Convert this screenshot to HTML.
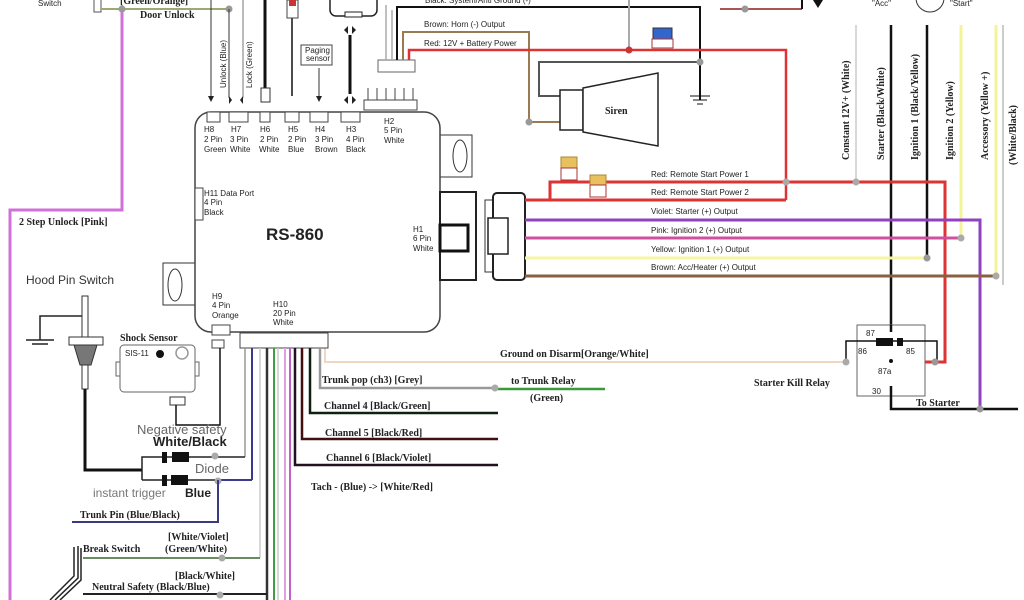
<!DOCTYPE html>
<html><head><meta charset="utf-8"><style>
html,body{margin:0;padding:0;background:#fff;}
svg{display:block;font-family:"Liberation Sans",sans-serif;}
.s{font-size:8px;fill:#222}
.b{font-size:10px;font-weight:bold;fill:#222;font-family:"Liberation Serif",serif}
</style></head><body>
<svg width="1024" height="600" viewBox="0 0 1024 600" xmlns="http://www.w3.org/2000/svg">
<!-- pink 2-step -->
<polyline points="122,9 122,210 10,210 10,600" fill="none" stroke="#d070d8" stroke-width="3"/>
<text x="38" y="6" class="s" font-size="9">Switch</text>
<rect x="94" y="-2" width="7" height="14" fill="#fff" stroke="#555"/>
<line x1="101" y1="9" x2="229" y2="9" stroke="#9aaa70" stroke-width="2"/>
<text x="120" y="4" class="b">[Green/Orange]</text>
<text x="140" y="18" class="b">Door Unlock</text>
<circle cx="122" cy="9" r="3.5" fill="#999"/><circle cx="229" cy="9" r="3.5" fill="#999"/>
<line x1="211" y1="0" x2="211" y2="98" stroke="#333"/>
<line x1="229" y1="9" x2="229" y2="98" stroke="#333"/>
<line x1="243" y1="0" x2="243" y2="98" stroke="#777"/>
<path d="M208,96 L211,102 L214,96Z M229,96 L232,100 L229,104Z M243,96 L240,100 L243,104Z" fill="#222"/>
<text transform="translate(226,88) rotate(-90)" class="s" font-size="9">Unlock (Blue)</text>
<text transform="translate(252,88) rotate(-90)" class="s" font-size="9">Lock (Green)</text>
<line x1="265" y1="0" x2="265" y2="88" stroke="#111" stroke-width="3"/>
<rect x="261" y="88" width="9" height="14" fill="#fff" stroke="#333"/>
<line x1="292" y1="18" x2="292" y2="96" stroke="#111" stroke-width="1.5"/>
<rect x="287" y="0" width="11" height="18" fill="#fff" stroke="#444"/>
<rect x="289" y="0" width="7" height="6" fill="#c33"/>
<rect x="301" y="45" width="31" height="20" fill="#fff" stroke="#444"/>
<text x="305" y="53" class="s" font-size="6">Paging</text><text x="306" y="61" class="s" font-size="6">sensor</text>
<line x1="319" y1="68" x2="319" y2="98" stroke="#333"/><path d="M316,96 L319,102 L322,96Z" fill="#222"/>
<line x1="350" y1="35" x2="350" y2="94" stroke="#111" stroke-width="3"/>
<path d="M344,30 L348,26 L348,34Z M356,30 L352,26 L352,34Z M344,100 L348,96 L348,104Z M356,100 L352,96 L352,104Z" fill="#222"/>
<rect x="330" y="-6" width="47" height="22" rx="6" fill="#fff" stroke="#222" stroke-width="1.5"/>
<rect x="345" y="12" width="17" height="5" fill="#fff" stroke="#222"/>
<!-- H2 connector -->
<rect x="364" y="100" width="53" height="10" fill="#fff" stroke="#444"/>
<g stroke="#444"><line x1="368" y1="88" x2="368" y2="100"/><line x1="377" y1="88" x2="377" y2="100"/><line x1="386" y1="88" x2="386" y2="100"/><line x1="395" y1="88" x2="395" y2="100"/><line x1="404" y1="88" x2="404" y2="100"/><line x1="413" y1="88" x2="413" y2="100"/></g>
<rect x="378" y="60" width="37" height="12" fill="#fff" stroke="#666"/>
<polyline points="386,60 386,5" fill="none" stroke="#aaa" stroke-width="1.5"/>
<polyline points="392,60 392,10" fill="none" stroke="#aaa" stroke-width="1.5"/>
<!-- top wires -->
<polyline points="397,60 397,7 700,7 700,100" fill="none" stroke="#111" stroke-width="2"/>
<text x="425" y="3" class="s">Black: System/Anti Ground (-)</text>
<g stroke="#111"><line x1="690" y1="96" x2="710" y2="96"/><line x1="693" y1="100" x2="707" y2="100"/><line x1="697" y1="104" x2="703" y2="104"/></g>
<polyline points="403,60 403,32 529,32 529,122 560,122" fill="none" stroke="#9a7a50" stroke-width="2"/>
<text x="424" y="27" class="s">Brown: Horn (-) Output</text>
<polyline points="409,60 409,50 786,50 786,200" fill="none" stroke="#d33" stroke-width="2.5"/>
<text x="424" y="46" class="s">Red: 12V + Battery Power</text>
<line x1="629" y1="0" x2="629" y2="50" stroke="#aaa" stroke-width="2"/><circle cx="629" cy="50" r="3.5" fill="#c33"/>
<rect x="653" y="28" width="19" height="11" fill="#36c" stroke="#333"/>
<rect x="652" y="39" width="21" height="9" fill="#fff" stroke="#a33"/>
<polyline points="700,62 539,62 539,96 560,96" fill="none" stroke="#555" stroke-width="2"/>
<circle cx="700" cy="62" r="3.5" fill="#999"/><circle cx="529" cy="122" r="3.5" fill="#999"/>
<rect x="560" y="90" width="23" height="40" fill="#fff" stroke="#222" stroke-width="1.5"/>
<polygon points="583,88 658,73 658,146 583,132" fill="#fff" stroke="#222" stroke-width="1.5"/>
<text x="605" y="114" class="b" font-size="11">Siren</text>
<line x1="720" y1="9" x2="802" y2="9" stroke="#a55" stroke-width="2"/><line x1="802" y1="0" x2="802" y2="9" stroke="#111" stroke-width="2"/>
<circle cx="745" cy="9" r="3.5" fill="#999"/>
<path d="M813,0 L823,0 L818,8Z" fill="#111"/>
<text x="872" y="6" class="s" font-size="9">"Acc"</text><text x="950" y="6" class="s" font-size="9">"Start"</text>
<circle cx="930" cy="-2" r="14" fill="#fff" stroke="#333"/>
<!-- vertical right wires -->
<line x1="856" y1="25" x2="856" y2="182" stroke="#ccc" stroke-width="1.5"/>
<line x1="891" y1="25" x2="891" y2="332" stroke="#111" stroke-width="2.5"/>
<line x1="927" y1="25" x2="927" y2="258" stroke="#111" stroke-width="2.5"/>
<line x1="961" y1="25" x2="961" y2="238" stroke="#f3f39a" stroke-width="3"/>
<line x1="996" y1="25" x2="996" y2="276" stroke="#f3f39a" stroke-width="3"/>
<line x1="1003" y1="25" x2="1003" y2="285" stroke="#bbb" stroke-width="1.5"/>
<g class="b" font-size="9">
<text transform="translate(849,160) rotate(-90)">Constant 12V+  (White)</text>
<text transform="translate(884,160) rotate(-90)">Starter (Black/White)</text>
<text transform="translate(918,160) rotate(-90)">Ignition 1 (Black/Yellow)</text>
<text transform="translate(953,160) rotate(-90)">Ignition 2 (Yellow)</text>
<text transform="translate(988,160) rotate(-90)">Accessory (Yellow +)</text>
<text transform="translate(1016,165) rotate(-90)">(White/Black)</text>
</g>
<!-- main box -->
<rect x="440" y="135" width="32" height="42" fill="#fff" stroke="#333"/><ellipse cx="460" cy="156" rx="7" ry="16" fill="#fff" stroke="#333"/>
<rect x="163" y="263" width="32" height="42" fill="#fff" stroke="#333"/><ellipse cx="175" cy="285" rx="7" ry="16" fill="#fff" stroke="#333"/>
<rect x="195" y="112" width="245" height="220" rx="16" fill="#fff" stroke="#444" stroke-width="1.5"/>
<g fill="#fff" stroke="#444"><rect x="207" y="112" width="13" height="10"/><rect x="229" y="112" width="19" height="10"/><rect x="260" y="112" width="10" height="10"/><rect x="285" y="112" width="14" height="10"/><rect x="310" y="112" width="18" height="10"/><rect x="341" y="112" width="19" height="10"/></g>
<g class="s" font-size="7.5">
<text x="204" y="132">H8</text><text x="204" y="142">2 Pin</text><text x="204" y="152">Green</text>
<text x="231" y="132">H7</text><text x="230" y="142">3 Pin</text><text x="230" y="152">White</text>
<text x="260" y="132">H6</text><text x="260" y="142">2 Pin</text><text x="259" y="152">White</text>
<text x="288" y="132">H5</text><text x="288" y="142">2 Pin</text><text x="288" y="152">Blue</text>
<text x="315" y="132">H4</text><text x="315" y="142">3 Pin</text><text x="315" y="152">Brown</text>
<text x="346" y="132">H3</text><text x="346" y="142">4 Pin</text><text x="346" y="152">Black</text>
<text x="384" y="124">H2</text><text x="384" y="133">5 Pin</text><text x="384" y="143">White</text>
<text x="204" y="196">H11 Data Port</text><text x="204" y="205">4 Pin</text><text x="204" y="215">Black</text>
<text x="413" y="232">H1</text><text x="413" y="241">6 Pin</text><text x="413" y="251">White</text>
<text x="212" y="299">H9</text><text x="212" y="308">4 Pin</text><text x="212" y="318">Orange</text>
<text x="273" y="307">H10</text><text x="273" y="316">20 Pin</text><text x="273" y="325">White</text>
</g>
<rect x="195" y="188" width="8" height="32" fill="#fff" stroke="#444"/>
<text x="266" y="240" font-size="17" font-weight="bold" fill="#222">RS-860</text>
<!-- H1 connector -->
<rect x="440" y="192" width="36" height="88" fill="#fff" stroke="#222" stroke-width="2"/>
<rect x="440" y="225" width="28" height="26" fill="#fff" stroke="#111" stroke-width="3"/>
<rect x="485" y="200" width="8" height="72" fill="#fff" stroke="#333"/>
<rect x="493" y="193" width="32" height="87" rx="4" fill="#fff" stroke="#222" stroke-width="2"/>
<rect x="488" y="218" width="20" height="36" fill="#fff" stroke="#222" stroke-width="1.5"/>
<!-- output wires -->
<polyline points="525,200 786,200" fill="none" stroke="#d33" stroke-width="3"/>
<polyline points="550,200 550,182 945,182 945,362 912,362" fill="none" stroke="#d33" stroke-width="3"/>
<rect x="561" y="157" width="16" height="11" fill="#e8c060" stroke="#a83"/><rect x="561" y="168" width="16" height="12" fill="#fff" stroke="#a33"/>
<rect x="590" y="175" width="16" height="10" fill="#e8c060" stroke="#a83"/><rect x="590" y="185" width="16" height="12" fill="#fff" stroke="#a33"/>
<circle cx="786" cy="182" r="3.5" fill="#aaa"/><circle cx="856" cy="182" r="3.5" fill="#aaa"/>
<polyline points="525,220 980,220 980,409" fill="none" stroke="#9040c0" stroke-width="3"/>
<line x1="525" y1="238" x2="961" y2="238" stroke="#d050a0" stroke-width="3"/><circle cx="961" cy="238" r="3.5" fill="#aaa"/>
<line x1="525" y1="258" x2="927" y2="258" stroke="#f6f6a0" stroke-width="3"/><circle cx="927" cy="258" r="3.5" fill="#999"/>
<line x1="525" y1="276" x2="996" y2="276" stroke="#8a6040" stroke-width="3"/><circle cx="996" cy="276" r="3.5" fill="#aaa"/>
<g class="s">
<text x="651" y="177">Red: Remote Start Power 1</text>
<text x="651" y="195">Red: Remote Start Power 2</text>
<text x="651" y="214">Violet: Starter (+) Output</text>
<text x="651" y="233">Pink: Ignition 2 (+) Output</text>
<text x="651" y="252">Yellow: Ignition 1 (+) Output</text>
<text x="651" y="270">Brown: Acc/Heater (+) Output</text>
</g>
<!-- relay -->
<rect x="857" y="325" width="68" height="71" fill="#fff" stroke="#666"/>
<rect x="876" y="338" width="17" height="8" fill="#111"/><rect x="897" y="338" width="6" height="8" fill="#111"/>
<polyline points="846,362 846,341 937,341 937,362" fill="none" stroke="#111" stroke-width="1.5"/>
<line x1="891" y1="325" x2="891" y2="332" stroke="#111" stroke-width="2.5"/>
<circle cx="891" cy="361" r="2" fill="#111"/>
<g class="s" font-size="9" fill="#444"><text x="866" y="336">87</text><text x="858" y="354">86</text><text x="906" y="354">85</text><text x="878" y="374">87a</text><text x="872" y="394">30</text></g>
<polyline points="891,386 891,409 1018,409" fill="none" stroke="#111" stroke-width="2.5"/>
<circle cx="980" cy="409" r="3.5" fill="#999"/><circle cx="935" cy="362" r="3.5" fill="#999"/>
<text x="754" y="386" class="b" font-size="10">Starter Kill Relay</text>
<text x="916" y="406" class="b" font-size="10">To Starter</text>
<polyline points="325,348 325,362 846,362" fill="none" stroke="#f0d8c0" stroke-width="2"/>
<circle cx="846" cy="362" r="3.5" fill="#aaa"/>
<text x="500" y="357" class="b" font-size="10">Ground on Disarm[Orange/White]</text>
<!-- H9/H10 -->
<rect x="212" y="325" width="18" height="10" fill="#fff" stroke="#444"/>
<rect x="212" y="340" width="12" height="8" fill="#fff" stroke="#444"/>
<rect x="240" y="333" width="88" height="15" fill="#fff" stroke="#444"/>
<g fill="none">
<line x1="245" y1="348" x2="245" y2="457" stroke="#999" stroke-width="1.5"/>
<line x1="252" y1="348" x2="252" y2="480" stroke="#3a3a90" stroke-width="2"/>
<line x1="260" y1="348" x2="260" y2="558" stroke="#ccc" stroke-width="1.5"/>
<line x1="267" y1="348" x2="267" y2="600" stroke="#333" stroke-width="2.5"/>
<line x1="274" y1="348" x2="274" y2="600" stroke="#40a040" stroke-width="2"/>
<line x1="278" y1="348" x2="278" y2="600" stroke="#ccc" stroke-width="1.5"/>
<line x1="285" y1="348" x2="285" y2="600" stroke="#e0a0e0" stroke-width="2"/>
<line x1="290" y1="348" x2="290" y2="600" stroke="#c060c8" stroke-width="2"/>
<polyline points="295,348 295,465 498,465" stroke="#201020" stroke-width="2.5"/>
<polyline points="302,348 302,439 498,439" stroke="#401010" stroke-width="2.5"/>
<polyline points="310,348 310,413 498,413" stroke="#102010" stroke-width="2.5"/>
<polyline points="320,348 320,388 495,388" stroke="#999" stroke-width="2.5"/>
<line x1="495" y1="389" x2="605" y2="389" stroke="#3a9a3a" stroke-width="2.5"/>
</g>
<circle cx="495" cy="388" r="3.5" fill="#aaa"/>
<g class="b" font-size="10">
<text x="322" y="383">Trunk pop (ch3) [Grey]</text>
<text x="324" y="409">Channel 4 [Black/Green]</text>
<text x="325" y="436">Channel 5 [Black/Red]</text>
<text x="326" y="461">Channel 6 [Black/Violet]</text>
<text x="311" y="490">Tach - (Blue) -&gt; [White/Red]</text>
<text x="511" y="384">to Trunk Relay</text>
<text x="530" y="401">(Green)</text>
<text x="19" y="225">2 Step Unlock [Pink]</text>
<text x="120" y="341">Shock Sensor</text>
<text x="80" y="518">Trunk Pin (Blue/Black)</text>
<text x="168" y="540">[White/Violet]</text>
<text x="83" y="552">Break Switch</text><text x="165" y="552">(Green/White)</text>
<text x="175" y="579">[Black/White]</text>
<text x="92" y="590">Neutral Safety (Black/Blue)</text>
</g>
<text x="26" y="284" font-size="12" fill="#333">Hood Pin Switch</text>
<!-- hood pin -->
<polyline points="40,340 40,316 84,316" fill="none" stroke="#222" stroke-width="1.5"/>
<g stroke="#222" stroke-width="1.5"><line x1="26" y1="340" x2="54" y2="340"/><line x1="32" y1="344" x2="48" y2="344"/></g>
<rect x="82" y="296" width="6" height="42" fill="#fff" stroke="#333"/>
<rect x="69" y="337" width="34" height="8" fill="#fff" stroke="#333"/>
<polygon points="74,345 97,345 91,365 80,365" fill="#777" stroke="#333"/>
<rect x="82" y="365" width="6" height="24" fill="#fff" stroke="#333"/>
<polyline points="85,389 85,470 142,470" fill="none" stroke="#111" stroke-width="3"/>
<!-- shock sensor -->
<rect x="120" y="345" width="75" height="47" rx="4" fill="#fff" stroke="#666"/>
<rect x="116" y="362" width="4" height="14" fill="#fff" stroke="#666"/><rect x="195" y="362" width="4" height="14" fill="#fff" stroke="#666"/>
<text x="125" y="356" class="s" font-size="7">SIS-11</text>
<circle cx="160" cy="354" r="4" fill="#111"/><circle cx="182" cy="353" r="6" fill="#fff" stroke="#999" stroke-width="1.5"/>
<rect x="170" y="397" width="15" height="8" fill="#fff" stroke="#333"/>
<polyline points="176,405 176,425 220,425 220,348" fill="none" stroke="#111" stroke-width="1.5"/>
<text x="137" y="434" font-size="13" fill="#666">Negative safety</text>
<text x="153" y="446" font-size="13" font-weight="bold" fill="#222">White/Black</text>
<!-- diodes -->
<polyline points="142,480 142,457 215,457 245,457" fill="none" stroke="#222" stroke-width="1.5"/>
<polyline points="142,480 252,480" fill="none" stroke="#222" stroke-width="1.5"/>
<line x1="218" y1="480" x2="252" y2="480" stroke="#3a3a90" stroke-width="2"/>
<rect x="162" y="452" width="5" height="11" fill="#111"/><rect x="172" y="452" width="17" height="10" fill="#111"/>
<rect x="162" y="475" width="5" height="11" fill="#111"/><rect x="171" y="475" width="17" height="10" fill="#111"/>
<circle cx="215" cy="456" r="3.5" fill="#aaa"/><circle cx="218" cy="481" r="3.5" fill="#aaa"/>
<text x="195" y="473" font-size="13" fill="#666">Diode</text>
<text x="93" y="497" font-size="12" fill="#777">instant trigger</text>
<text x="185" y="497" font-size="12" font-weight="bold" fill="#222">Blue</text>
<polyline points="218,480 218,522 72,522" fill="none" stroke="#3a3a80" stroke-width="2"/>
<polyline points="83,558 260,558" fill="none" stroke="#6a8a60" stroke-width="2"/><circle cx="222" cy="558" r="3.5" fill="#aaa"/>
<polyline points="83,594 267,594" fill="none" stroke="#222" stroke-width="2"/><circle cx="220" cy="595" r="3.5" fill="#aaa"/>
<path d="M78,546 L78,578 L55,600 M74,547 L74,576 L50,600 M81,548 L81,580 L60,600" fill="none" stroke="#222" stroke-width="1.5"/>
</svg>
</body></html>
